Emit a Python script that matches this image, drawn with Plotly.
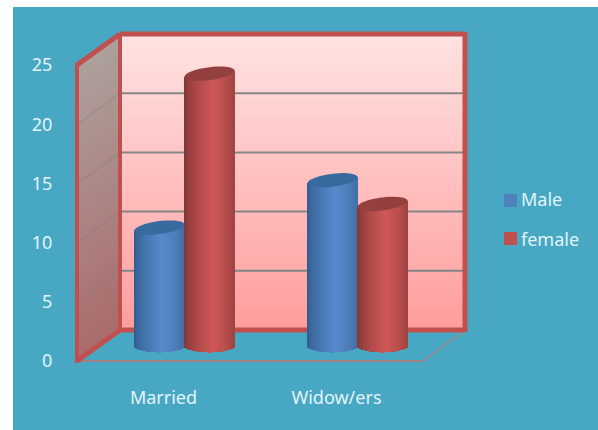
import math
import plotly.graph_objects as go

categories = ["Married", "Widow/ers"]
male = [10, 14]
female = [23, 12]
y_ticks = [0, 5, 10, 15, 20, 25]
series_names = ["Male", "female"]

W, H = 598, 430
L, R, T, B = 77, 423, 65, 361   # front plane of the 3D box, in page pixels
DX, DY = 43, -31                # depth offset front -> back wall
PXU = (B - T) / 25.0            # pixels per value unit
XU = (R - L) / 2.0              # pixels per category

def fx(px): return (px - L) / (R - L)
def fy(py): return (B - py) / (B - T)

def lerp(c1, c2, t):
    return "rgb(%d,%d,%d)" % tuple(round(a + (b - a) * t) for a, b in zip(c1, c2))

shapes = []
def rect(x0, y0, x1, y1, color):
    shapes.append(dict(type="rect", xref="paper", yref="paper", layer="below",
                       x0=fx(x0), x1=fx(x1), y0=fy(y0), y1=fy(y1),
                       fillcolor=color, line=dict(width=0)))
def poly(pts, color):
    p = "M" + " L".join(f"{fx(a):.5f},{fy(b):.5f}" for a, b in pts) + " Z"
    shapes.append(dict(type="path", xref="paper", yref="paper", layer="below",
                       path=p, fillcolor=color, line=dict(width=0)))
def line(x0, y0, x1, y1, color, w):
    shapes.append(dict(type="line", xref="paper", yref="paper", layer="below",
                       x0=fx(x0), x1=fx(x1), y0=fy(y0), y1=fy(y1),
                       line=dict(color=color, width=w)))

# teal panel
rect(13, 7, 598, 430, "#48a8c4")

# back wall gradient (painter's order, every band runs to the wall's foot)
bx0, bx1, by0, by1 = L + DX, R + DX - 1, T + DY, B + DY
n = 40
for i in range(n):
    t = i / (n - 1)
    ya = by0 + (by1 - by0) * i / n
    rect(bx0, ya, bx1, by1, lerp((255, 226, 225), (255, 158, 158), t))

# left wall gradient
n = 30
for i in range(n):
    t = i / (n - 1)
    a = i / n
    poly([(L, T + (B - T) * a), (bx0, by0 + (by1 - by0) * a),
          (bx0, by1), (L, B)],
         lerp((172, 160, 155), (170, 108, 108), t))

# gridlines on both walls
for v in y_ticks[1:-1]:
    yf = B - v * PXU
    line(L, yf, bx0, yf + DY, "rgba(125,125,125,0.4)", 1.2)
    line(bx0, yf + DY, bx1, yf + DY, "#858585", 2)

# floor outline
line(L, B, R, B, "#a57f88", 2)
line(R, B, bx1, by1, "#8d8f98", 2)

# red frame
FR = "#c0504d"
line(bx0, by0, bx1, by0, FR, 5)
line(bx1, by0 - 2, bx1, by1 + 2, FR, 5)
line(bx0, by1, bx1, by1, FR, 5)
line(bx0, by0, bx0, by1, FR, 4)
line(L, T, bx0, by0, FR, 5)
line(L, B, bx0, by1, FR, 5)
line(L, T - 2, L, B + 2, FR, 4)

# cylinders
HALF = 25 / XU
OFFS = [-4.0 / XU, 46.0 / XU]   # bar centre offset from the category tick
PALETTE = [((46, 88, 135), (88, 138, 204)), ((122, 50, 50), (206, 88, 86))]
CAPS = ["#396a9f", "#94403e"]
ELL = 6.5 / PXU
TILT = 3.0 / PXU
STRIPS = 26

traces = []
for s, vals in enumerate([male, female]):
    xs, ys, bases, widths, cols = [], [], [], [], []
    dark, lite = PALETTE[s]
    for c, v in enumerate(vals):
        centre = c + OFFS[s]
        for k in range(STRIPS):
            u = -1 + (2 * k + 1) / STRIPS
            shade = max(0.0, 1 - abs(u - 0.15) / 1.15) ** 0.6
            b = -ELL * math.sqrt(max(0, 1 - u * u))
            xs.append(centre + u * HALF)
            bases.append(b)
            ys.append(v + TILT * u - b)
            widths.append(2 * HALF / STRIPS * 1.12)
            cols.append(lerp(dark, lite, shade))
        pts = []
        for a in range(48):
            th = 2 * math.pi * a / 48
            cu, su = math.cos(th), math.sin(th)
            pts.append((centre + HALF * cu, v + TILT * cu + ELL * su))
        shapes.append(dict(type="path", xref="x", yref="y2", layer="above",
                           path="M" + " L".join(f"{a:.4f},{b:.4f}" for a, b in pts) + " Z",
                           fillcolor=CAPS[s], line=dict(width=0)))
    traces.append(go.Bar(x=xs, y=ys, base=bases, width=widths, yaxis="y2",
                         marker=dict(color=cols, line=dict(width=0)),
                         showlegend=False, hoverinfo="skip"))

fig = go.Figure(traces)
LEG = ["#4f81bd", "#c0504d"]
for i, (name, col) in enumerate(zip(series_names, LEG)):
    fig.add_trace(go.Scatter(x=[None], y=[None], mode="markers", name=name,
                             legendgroup=name,
                             marker=dict(symbol="square", size=12,
                                         color="rgba(0,0,0,0)")))
    rect(504, 194 + i * 38, 517, 207 + i * 38, col)

TXT = "#e3f4f8"
FONT = "Noto Sans"
fig.update_layout(
    width=W, height=H, autosize=False,
    margin=dict(l=L, r=W - R, t=T, b=H - B, pad=0),
    paper_bgcolor="white", plot_bgcolor="rgba(0,0,0,0)",
    barmode="overlay", bargap=0,
    font=dict(family=FONT, size=15, color=TXT),
    xaxis=dict(range=[-0.5, 1.5], tickvals=[0, 1], ticktext=categories,
               showgrid=False, zeroline=False, showline=False,
               ticks="outside", ticklen=20, tickcolor="rgba(0,0,0,0)",
               tickfont=dict(family=FONT, size=18, color=TXT)),
    yaxis=dict(range=[0, 25], tickvals=y_ticks, showgrid=False, zeroline=False,
               showline=False, ticks="outside", ticklen=20,
               tickcolor="rgba(0,0,0,0)",
               tickfont=dict(family=FONT, size=18, color=TXT)),
    yaxis2=dict(range=[-15 / PXU, 25 - 15 / PXU], overlaying="y", visible=False),
    legend=dict(xref="container", yref="container",
                x=481 / W, xanchor="left", y=1 - 219 / H, yanchor="middle",
                tracegroupgap=14, bgcolor="rgba(0,0,0,0)",
                font=dict(family=FONT, size=18, color=TXT)),
    shapes=shapes,
)
fig.write_html("out.html", config=dict(displayModeBar=False),
               post_script="document.body.style.margin='0';")
